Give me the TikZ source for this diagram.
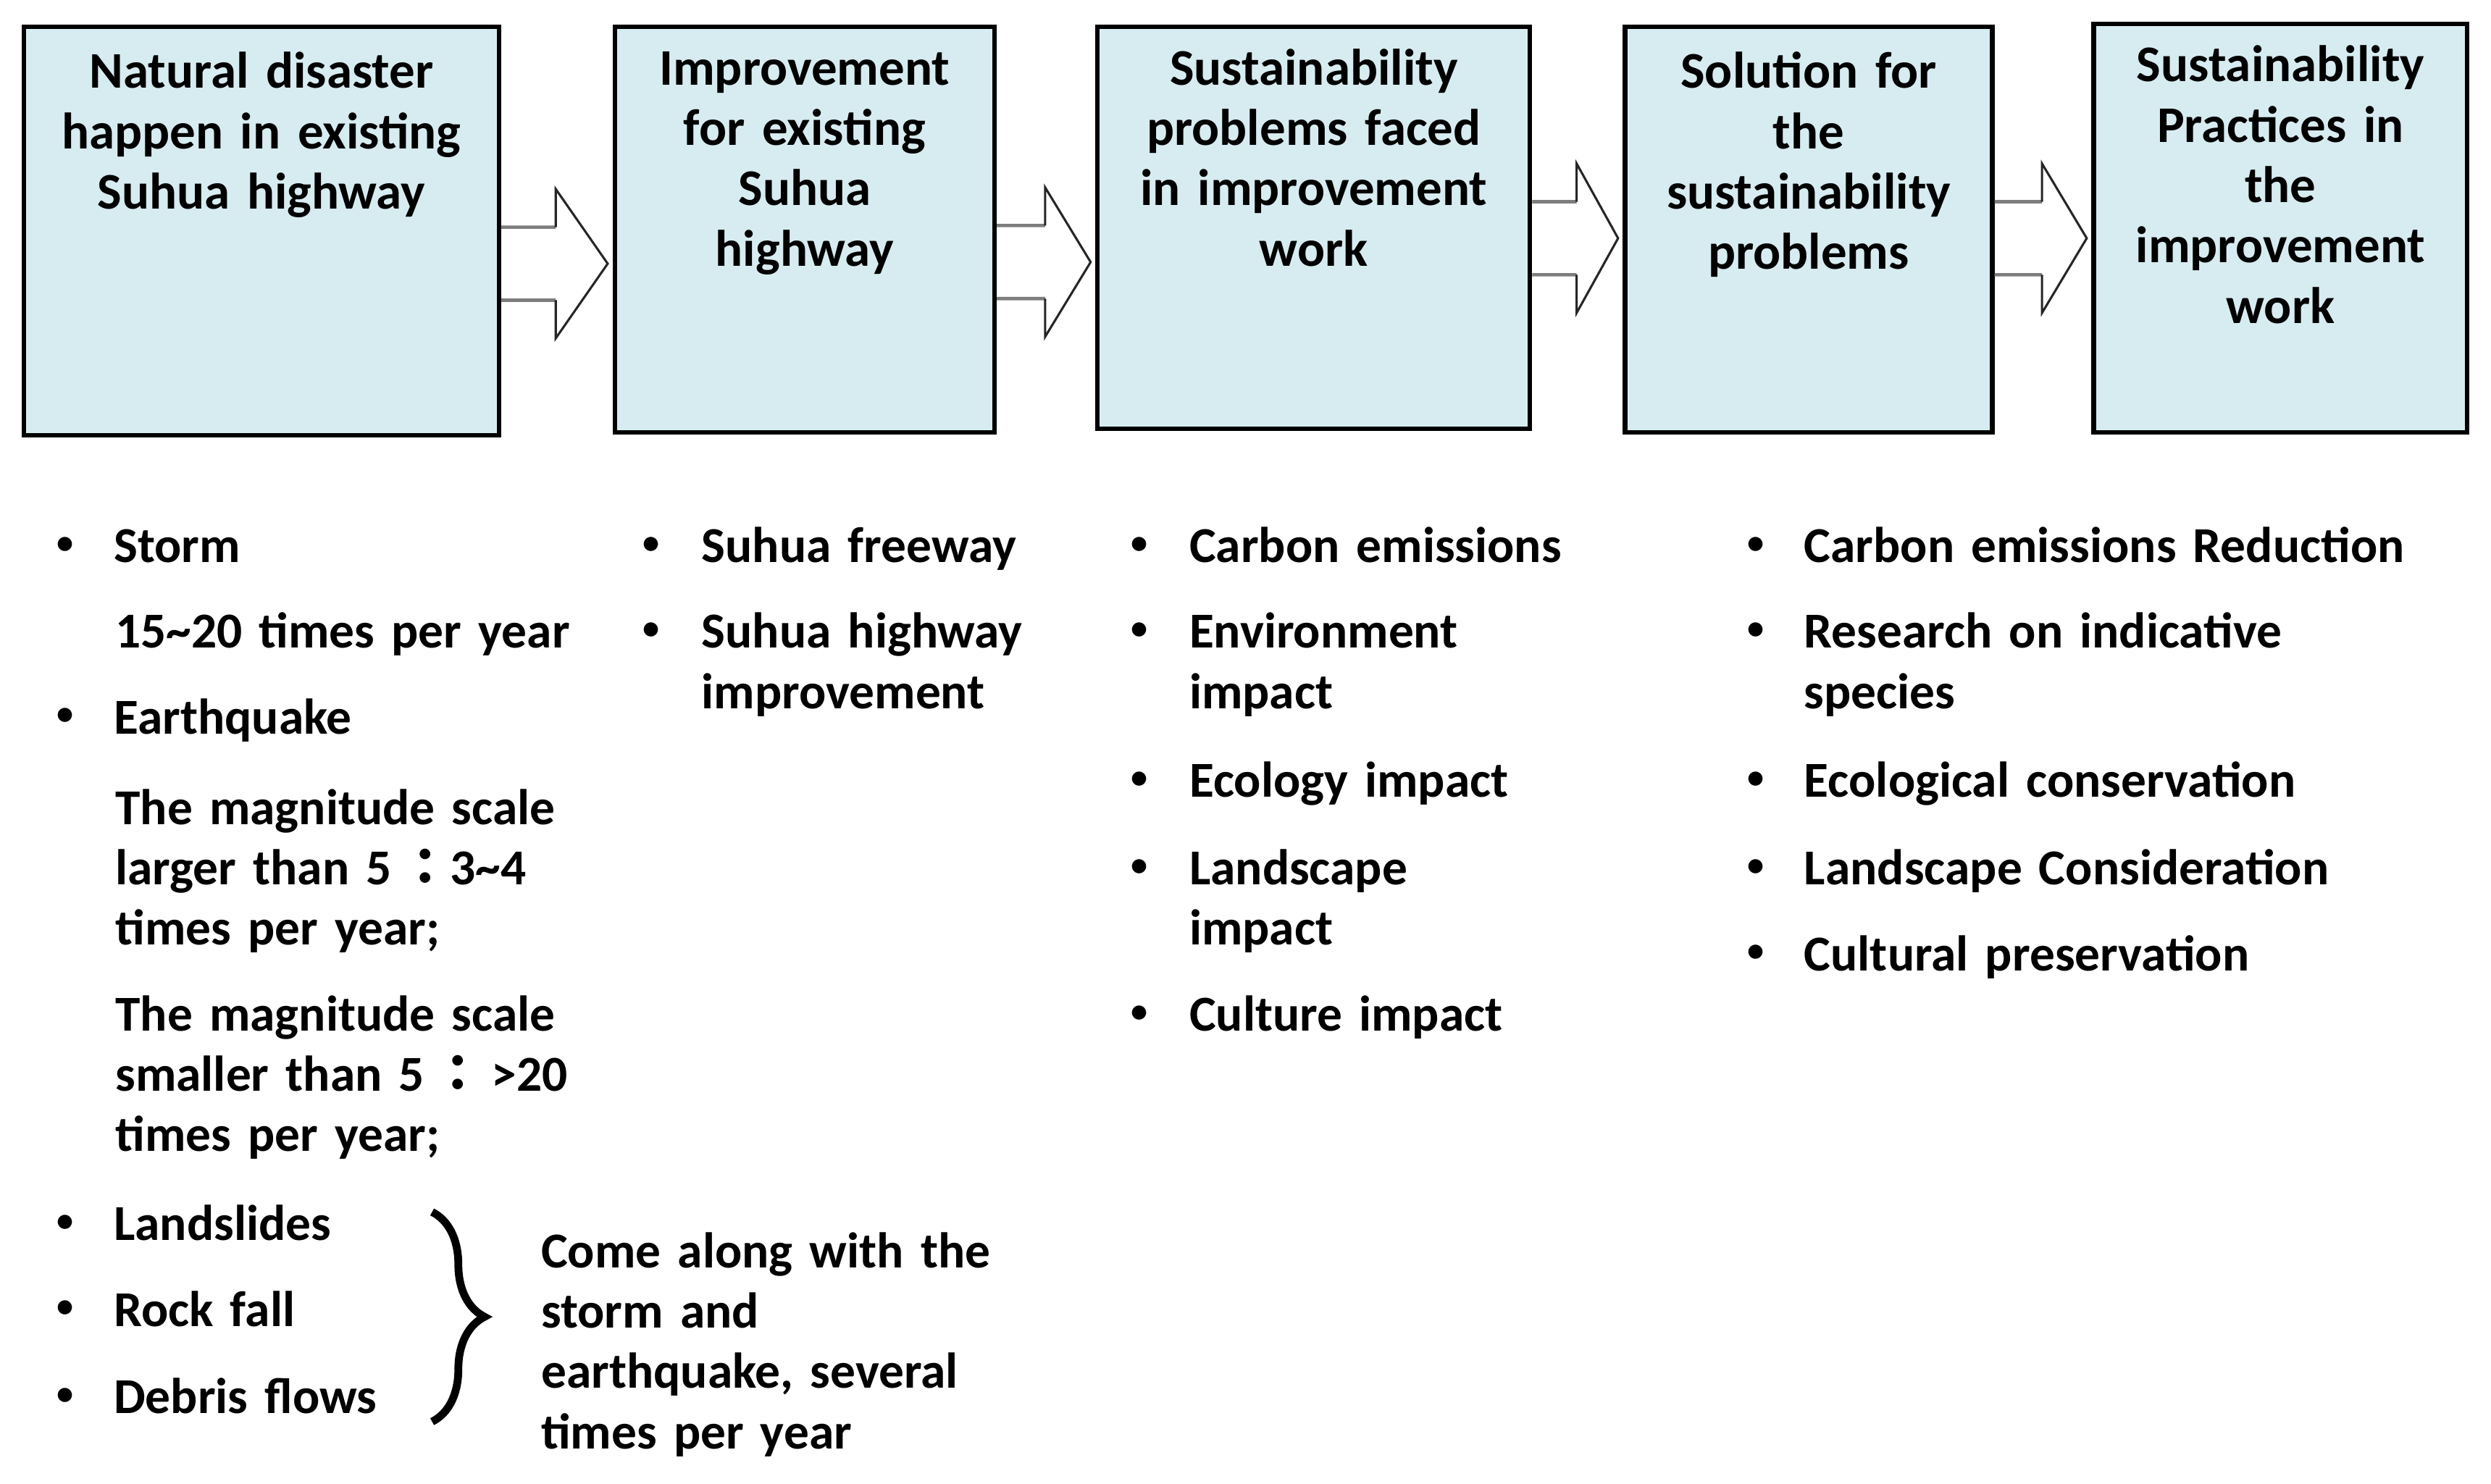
\documentclass[tikz,border=0pt]{standalone}
\usepackage{fontspec}
\setmainfont{Carlito}
\newfontfamily\cjk{Noto Sans CJK TC}
\usepackage{xcolor}
\usetikzlibrary{calc, decorations.pathreplacing}
\definecolor{BoxBlue}{RGB}{215,236,240}
\definecolor{ShaftGray}{RGB}{125,125,125}

\begin{document}
\begin{tikzpicture}[x=0.01cm, y=-0.01cm,
      sbox/.style={rectangle, draw=black, line width=0.8pt, fill=BoxBlue,
                   inner sep=0pt},
      ttl/.style={anchor=base, align=center, text width=2.9cm, inner sep=0pt,
                  font=\bfseries\fontsize{9.2}{10.8}\selectfont},
      itm/.style={anchor=base west, align=left, text width=4.2cm, inner sep=0pt,
                  font=\bfseries\fontsize{9}{10.8}\selectfont},
      dot/.style={anchor=base, inner sep=0pt, yshift=1.6pt,
                  font=\bfseries\fontsize{6}{7}\selectfont},
      shaft/.style={draw=ShaftGray, line width=0.6pt},
      head/.style={draw=black!85, line width=0.4pt, line join=miter},
      brc/.style={decorate, decoration={brace, amplitude=0.33cm}, line width=1.4pt}
    ]
    \path[use as bounding box, fill=white] (0,0) rectangle (1568,934);

    % the five stages
    \node[sbox, minimum width=2.99cm, minimum height=2.57cm] (nat) at (164.5,145.5) {};
    \node[sbox, minimum width=2.39cm, minimum height=2.55cm] (imp) at (506.5,144.5) {};
    \node[sbox, minimum width=2.72cm, minimum height=2.53cm] (sus) at (827,143.5) {};
    \node[sbox, minimum width=2.31cm, minimum height=2.55cm] (sol) at (1138.5,144.5) {};
    \node[sbox, minimum width=2.35cm, minimum height=2.57cm] (pra) at (1435.5,143.5) {};

    \node[ttl] (natT) at ($(nat.north)+(0,40)$)
          {Natural disaster\\happen in existing\\Suhua highway};
    \node[ttl] (impT) at ($(imp.north)+(0,38)$)
          {Improvement\\for existing\\Suhua\\highway};
    \node[ttl] (susT) at ($(sus.north)+(0,38)$)
          {Sustainability\\problems faced\\in improvement\\work};
    \node[ttl] (solT) at ($(sol.north)+(0,40)$)
          {Solution for\\the\\sustainability\\problems};
    \node[ttl] (praT) at ($(pra.north)+(0,38)$)
          {Sustainability\\Practices in\\the\\improvement\\work};

    % block arrows between the stages
    \foreach \a/\b/\y in {nat/imp/166, imp/sus/165, sus/sol/150, sol/pra/150}{
      \coordinate (p) at (\a.east |- 0,\y);
      \coordinate (q) at (\b.west |- 0,\y);
      \coordinate (m) at ($(p)!0.49!(q)$);
      \draw[shaft] ($(p)+(0,-23)$) -- ($(m)+(0,-23)$);
      \draw[shaft] ($(p)+(0,23)$) -- ($(m)+(0,23)$);
      \draw[head] ($(m)+(0,-23)$) -- ($(m)+(0,-47)$) -- ($(q)+(-3,0)$)
                  -- ($(m)+(0,47)$) -- ($(m)+(0,23)$);
    }

    % bullets
    \foreach \x/\y in {41/354, 41/462, 41/781, 41/835, 41/890,
                       410/354, 410/408,
                       717/354, 717/408, 717/502, 717/557, 717/649,
                       1105/354, 1105/408, 1105/502, 1105/557, 1105/611}{
      \node[dot] (bul-\x-\y) at (\x,\y) {\textbullet};
    }

    % disasters
    \node[itm] (storm) at (71,354) {Storm};
    \node[itm] (stormN) at (72,408) {15\textasciitilde20 times per year};
    \node[itm] (quake) at (71,462) {Earthquake};
    \node[itm] (quakeL) at (72,519)
          {The magnitude scale\\larger than 5\,{\cjk ：}3\textasciitilde4\\times per year;};
    \node[itm] (quakeS) at (72,649)
          {The magnitude scale\\smaller than 5\,{\cjk ：}\,>20\\times per year;};
    \node[itm] (slide) at (71,781) {Landslides};
    \node[itm] (rock) at (71,835) {Rock fall};
    \node[itm] (debris) at (71,890) {Debris flows};
    \draw[brc] (272,763) -- (272,895);
    \node[itm] (come) at (340,798)
          {Come along with the\\storm and\\earthquake, several\\times per year};

    % improvement
    \node[itm] (free) at (441,354) {Suhua freeway};
    \node[itm] (hwy) at (441,408) {Suhua highway\\improvement};

    % problems
    \node[itm] (carb) at (748,354) {Carbon emissions};
    \node[itm] (env) at (748,408) {Environment\\impact};
    \node[itm] (eco) at (748,502) {Ecology impact};
    \node[itm] (land) at (748,557) {Landscape\\impact};
    \node[itm] (cult) at (748,649) {Culture impact};

    % solutions
    \node[itm] (carbR) at (1135,354) {Carbon emissions Reduction};
    \node[itm] (spec) at (1135,408) {Research on indicative\\species};
    \node[itm] (ecoC) at (1135,502) {Ecological conservation};
    \node[itm] (landC) at (1135,557) {Landscape Consideration};
    \node[itm] (cultP) at (1135,611) {Cultural preservation};
  \end{tikzpicture}
\end{document}
